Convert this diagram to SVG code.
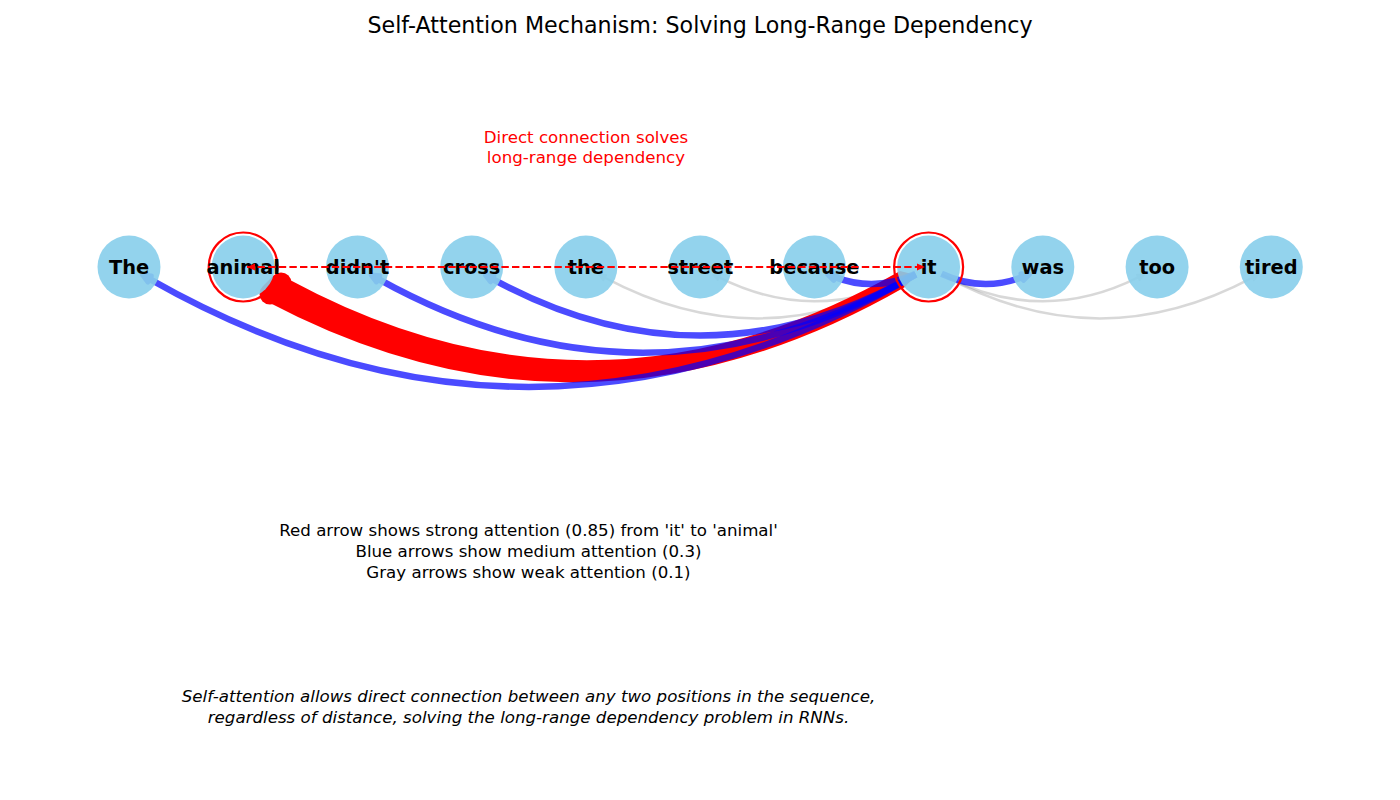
<svg xmlns="http://www.w3.org/2000/svg" width="1400" height="800" viewBox="0 0 1400 800">
<style>
  text { font-family: "DejaVu Sans", "Liberation Sans", sans-serif; }
  .title { font-size: 22.2px; fill: #000; }
  .lbl { font-size: 19.4px; font-weight: bold; fill: #000; text-anchor: middle; }
  .note { font-size: 16.67px; text-anchor: middle; }
  .eb { opacity: 0.7; }
  .eg { opacity: 0.3; }
  .eb path { fill: none; stroke: #0000ff; stroke-width: 6.5; }
  .eg path { fill: none; stroke: #808080; stroke-width: 2.5; }
  .node circle.n { fill: #87CEEB; fill-opacity: 0.9; }
  .hl { fill: none; stroke: #ff0000; stroke-width: 2.2; }
</style>
<defs>
  <marker id="hb" markerUnits="userSpaceOnUse" viewBox="-15 -15 30 30" markerWidth="30" markerHeight="30" refX="0" refY="0" orient="auto">
    <path d="M0,-3.5 L8,0 L0,3.5 Z" fill="#0000ff" stroke="#0000ff" stroke-width="5" stroke-linejoin="round"/>
  </marker>
  <marker id="hg" markerUnits="userSpaceOnUse" viewBox="-15 -15 30 30" markerWidth="30" markerHeight="30" refX="0" refY="0" orient="auto">
    <path d="M0,-3 L7,0 L0,3 Z" fill="#808080" stroke="#808080" stroke-width="2" stroke-linejoin="round"/>
  </marker>
  <marker id="hr" markerUnits="userSpaceOnUse" viewBox="-15 -15 30 30" markerWidth="30" markerHeight="30" refX="0" refY="0" orient="auto-start-reverse">
    <path d="M-8,-3.5 L0,0 L-8,3.5 Z" fill="#ff0000"/>
  </marker>
</defs>
<rect width="1400" height="800" fill="#ffffff"/>

<text class="title" x="700" y="32.5" text-anchor="middle">Self-Attention Mechanism: Solving Long-Range Dependency</text>

<g id="connectors">
  <g class="eg"><path d="M915.7,274.4 Q760.3,360.7 604.8,277.7" marker-end="url(#hg)"/></g>
  <g class="eg"><path d="M915.7,274.3 Q817.4,326.6 719.1,277.4" marker-end="url(#hg)"/></g>
  <g class="eg"><path d="M941.5,274.3 Q1039.8,326.6 1138.2,277.4" marker-end="url(#hg)"/></g>
  <g class="eg"><path d="M941.5,274.4 Q1097,360.7 1252.4,277.7" marker-end="url(#hg)"/></g>
  <g id="edge-it-animal" fill="#ff0000">
    <path d="M900,271 Q595,444.8 290,280 L268,302 Q586.5,470 905,287 L916,275 Z"/>
    <path d="M270,294 L281,283" stroke="#ff0000" stroke-width="21" stroke-linecap="round"/>
  </g>
  <g class="eb"><path d="M915.7,274.6 Q532.7,497 149.6,279" marker-end="url(#hb)"/></g>
  <g class="eb"><path d="M915.7,274.5 Q646.9,428.6 378.1,278.9" marker-end="url(#hb)"/></g>
  <g class="eb"><path d="M915.7,274.5 Q704,394.4 492.3,278.8" marker-end="url(#hb)"/></g>
  <g class="eb"><path d="M915.7,273.8 Q875.4,292.6 835,277.1" marker-end="url(#hb)"/></g>
  <g class="eb"><path d="M941.5,273.8 Q981.8,292.6 1022.2,277.1" marker-end="url(#hb)"/></g>
</g>

<g id="node-The" class="node"><circle class="n" cx="129" cy="267" r="31.5"/><text class="lbl" x="129" y="273.5">The</text></g>
<g id="node-animal" class="node"><circle class="n" cx="243.2" cy="267" r="31.5"/><circle class="hl" cx="243.2" cy="267" r="34.5"/><text class="lbl" x="243.2" y="273.5">animal</text></g>
<g id="node-didnt" class="node"><circle class="n" cx="357.5" cy="267" r="31.5"/><text class="lbl" x="357.5" y="273.5">didn't</text></g>
<g id="node-cross" class="node"><circle class="n" cx="471.7" cy="267" r="31.5"/><text class="lbl" x="471.7" y="273.5">cross</text></g>
<g id="node-the" class="node"><circle class="n" cx="585.9" cy="267" r="31.5"/><text class="lbl" x="585.9" y="273.5">the</text></g>
<g id="node-street" class="node"><circle class="n" cx="700.2" cy="267" r="31.5"/><text class="lbl" x="700.2" y="273.5">street</text></g>
<g id="node-because" class="node"><circle class="n" cx="814.4" cy="267" r="31.5"/><text class="lbl" x="814.4" y="273.5">because</text></g>
<g id="node-it" class="node"><circle class="n" cx="928.6" cy="267" r="31.5"/><circle class="hl" cx="928.6" cy="267" r="34.5"/><text class="lbl" x="928.6" y="273.5">it</text></g>
<g id="node-was" class="node"><circle class="n" cx="1042.8" cy="267" r="31.5"/><text class="lbl" x="1042.8" y="273.5">was</text></g>
<g id="node-too" class="node"><circle class="n" cx="1157.1" cy="267" r="31.5"/><text class="lbl" x="1157.1" y="273.5">too</text></g>
<g id="node-tired" class="node"><circle class="n" cx="1271.3" cy="267" r="31.5"/><text class="lbl" x="1271.3" y="273.5">tired</text></g>

<g id="annotation">
  <path d="M247,267 L925,267" fill="none" stroke="#ff0000" stroke-width="2" stroke-dasharray="7.4 3.2" marker-start="url(#hr)" marker-end="url(#hr)"/>
  <text class="note" fill="#ff0000" x="586" y="143">Direct connection solves</text>
  <text class="note" fill="#ff0000" x="586" y="163">long-range dependency</text>
</g>

<g id="legend" fill="#000">
  <text class="note" x="528.5" y="536">Red arrow shows strong attention (0.85) from 'it' to 'animal'</text>
  <text class="note" x="528.5" y="557">Blue arrows show medium attention (0.3)</text>
  <text class="note" x="528.5" y="578">Gray arrows show weak attention (0.1)</text>
</g>

<g id="footer" fill="#000" font-style="italic">
  <text class="note" x="528.5" y="702">Self-attention allows direct connection between any two positions in the sequence,</text>
  <text class="note" x="528.5" y="723">regardless of distance, solving the long-range dependency problem in RNNs.</text>
</g>
</svg>
